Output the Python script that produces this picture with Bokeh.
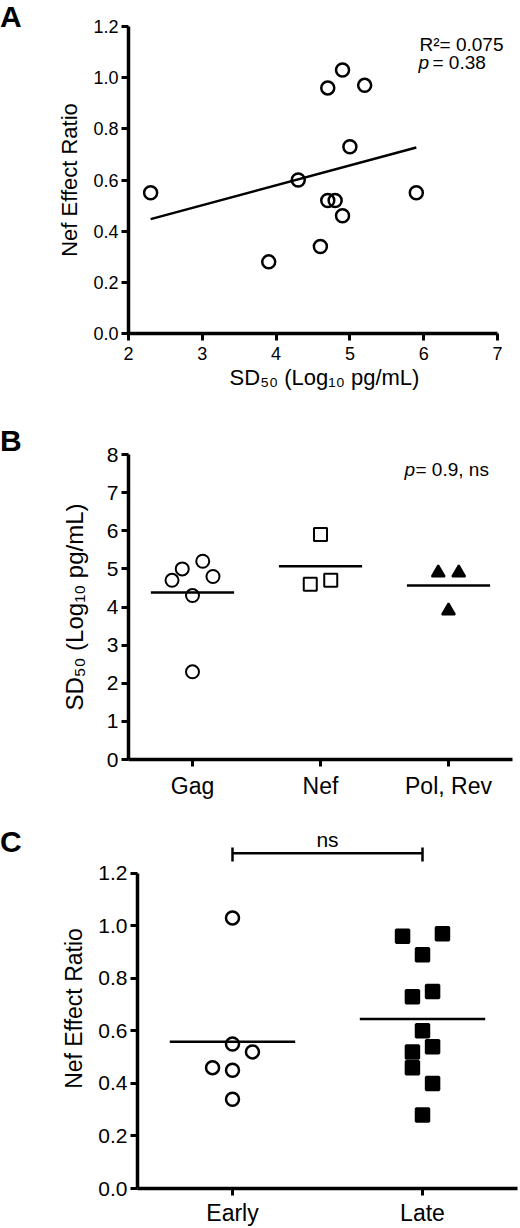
import numpy as np
from bokeh.plotting import figure
from bokeh.models import Range1d, FixedTicker, Label, Div
from bokeh.layouts import column, row
from bokeh.core.properties import value
from bokeh.embed import file_html
from bokeh.resources import INLINE

FONT = "Liberation Sans"

# Panel A: SD50 vs Nef effect ratio
sd50_a = [2.3, 3.9, 4.3, 4.6, 4.7, 4.7, 4.8, 4.9, 4.9, 5.0, 5.2, 5.9]
nef_a = [0.55, 0.28, 0.60, 0.34, 0.96, 0.52, 0.52, 1.03, 0.46, 0.73, 0.97, 0.55]

# Panel B: SD50 by gene group
groups_b = ["Gag", "Nef", "Pol, Rev"]
gag_sd50 = [4.7, 5.0, 5.2, 4.8, 4.3, 2.3]
nef_sd50 = [5.9, 4.6, 4.7]
polrev_sd50 = [4.9, 4.9, 3.9]
gag_jit = [-0.16, -0.08, 0.08, 0.16, 0.0, 0.0]
nef_jit = [0.0, -0.08, 0.08]
polrev_jit = [-0.08, 0.08, 0.0]

# Panel C: early vs late
groups_c = ["Early", "Late"]
early_ratio = [1.03, 0.55, 0.52, 0.46, 0.45, 0.34]
late_ratio = [0.96, 0.97, 0.89, 0.73, 0.75, 0.60, 0.52, 0.54, 0.46, 0.40, 0.28]
early_jit = [0.0, 0.0, 0.105, -0.105, 0.0, 0.0]
late_jit = [-0.105, 0.105, 0.0, -0.053, 0.053, 0.0, -0.053, 0.053, -0.053, 0.053, 0.0]

LETTER_W = 28


def make_fig(height, left, right, top, bottom, xr, yr):
    p = figure(width=520 - LETTER_W, height=height, x_range=xr, y_range=yr,
               min_border_left=left, min_border_right=right,
               min_border_top=top, min_border_bottom=bottom,
               output_backend="svg", toolbar_location=None)
    p.grid.visible = False
    p.outline_line_color = None
    for ax in p.axis:
        ax.axis_line_width = 3.5
        ax.major_tick_line_width = 3
        ax.major_tick_out = 7
        ax.major_tick_in = 0
        ax.minor_tick_out = 0
        ax.minor_tick_in = 0
        ax.major_label_text_font = FONT
        ax.axis_label_text_font = FONT
        ax.axis_label_text_font_style = "normal"
        ax.major_label_text_color = "black"
        ax.axis_label_text_color = "black"
    return p


def letter(txt, height, top):
    html = ('<div style="font-family:\'Liberation Sans\';font-size:30px;font-weight:bold;'
            'color:black;margin-top:%dpx;line-height:1.15">%s</div>' % (top, txt))
    return Div(text=html, width=LETTER_W, height=height, margin=0)


def note(p, x, y, txt, italic=False, size="19px"):
    p.add_layout(Label(x=x, y=y, x_units="screen", y_units="screen", text=txt,
                       text_font=FONT, text_font_size=size, text_color="black",
                       text_baseline="alphabetic",
                       text_font_style="italic" if italic else "normal"))


# ---------- A ----------
pa = make_fig(400, 100, 0, 26, 67, Range1d(2, 7 + 23 / 73.8), Range1d(0, 1.2))
pa.xaxis.ticker = FixedTicker(ticks=[2, 3, 4, 5, 6, 7])
pa.xaxis.bounds = (2, 7)
pa.yaxis.ticker = FixedTicker(ticks=[0, 0.2, 0.4, 0.6, 0.8, 1.0, 1.2])
pa.yaxis.major_label_overrides = {t: "%.1f" % t for t in [0, 0.2, 0.4, 0.6, 0.8, 1.0, 1.2]}
pa.axis.major_label_text_font_size = "18px"
pa.axis.axis_label_text_font_size = "22px"
pa.xaxis.axis_label = "SD₅₀ (Log₁₀ pg/mL)"
pa.yaxis.axis_label = "Nef Effect Ratio"
pa.yaxis.major_label_standoff = 3
pa.xaxis.major_label_standoff = 6
pa.yaxis.axis_label_standoff = 8
pa.xaxis.axis_label_standoff = 2

coef = np.polyfit(sd50_a, nef_a, 1)
fit_x = [min(sd50_a), max(sd50_a)]
pa.line(fit_x, list(np.polyval(coef, fit_x)), line_color="black", line_width=2.5)
pa.scatter(sd50_a, nef_a, marker="circle", size=13, fill_color=None,
           line_color="black", line_width=2.5)
note(pa, 291, 289, "R²= 0.075")
note(pa, 290, 271, "p", italic=True)
note(pa, 304, 271, "= 0.38")

# ---------- B ----------
pb = make_fig(408, 100, 8, 54, 49, Range1d(0, 3), Range1d(0, 8))
pb.xaxis.ticker = FixedTicker(ticks=[0.5, 1.5, 2.5])
pb.xaxis.major_label_overrides = {i + 0.5: g for i, g in enumerate(groups_b)}
pb.yaxis.ticker = FixedTicker(ticks=list(range(9)))
pb.yaxis.major_label_text_font_size = "21px"
pb.xaxis.major_label_text_font_size = "23px"
pb.yaxis.axis_label = "SD₅₀ (Log₁₀ pg/mL)"
pb.yaxis.axis_label_text_font_size = "24px"
pb.yaxis.major_label_standoff = 3
pb.xaxis.major_label_standoff = 6
pb.yaxis.axis_label_standoff = 16

b_sets = [(gag_sd50, gag_jit, "circle", None), (nef_sd50, nef_jit, "square", None),
          (polrev_sd50, polrev_jit, "triangle", "black")]
for i, (vals, jit, mk, fill) in enumerate(b_sets):
    m = float(np.mean(vals))
    pb.segment(x0=[i + 0.5 - 0.325], x1=[i + 0.5 + 0.325], y0=[m], y1=[m],
               line_color="black", line_width=2.5)
    pb.scatter([i + 0.5 + j for j in jit], vals, marker=mk, size=13,
               fill_color=fill, line_color="black", line_width=2)
note(pb, 276, 290, "p", italic=True)
note(pb, 287, 290, "= 0.9, ns")

# ---------- C ----------
pc = make_fig(420, 109, 3, 20, 38, Range1d(0, 2), Range1d(0, 362 / 264.17))
pc.xaxis.ticker = FixedTicker(ticks=[0.5, 1.5])
pc.xaxis.major_label_overrides = {i + 0.5: g for i, g in enumerate(groups_c)}
pc.yaxis.ticker = FixedTicker(ticks=[0, 0.2, 0.4, 0.6, 0.8, 1.0, 1.2])
pc.yaxis.major_label_overrides = {t: "%.1f" % t for t in [0, 0.2, 0.4, 0.6, 0.8, 1.0, 1.2]}
pc.yaxis.bounds = (0, 1.2)
pc.yaxis.major_label_text_font_size = "21px"
pc.xaxis.major_label_text_font_size = "23px"
pc.yaxis.axis_label = "Nef Effect Ratio"
pc.yaxis.axis_label_text_font_size = "23px"
pc.yaxis.major_label_standoff = 3
pc.xaxis.major_label_standoff = 4
pc.yaxis.axis_label_standoff = 8

c_sets = [(early_ratio, early_jit, "circle", None), (late_ratio, late_jit, "square", "black")]
for i, (vals, jit, mk, fill) in enumerate(c_sets):
    m = float(np.mean(vals))
    pc.segment(x0=[i + 0.5 - 0.33], x1=[i + 0.5 + 0.33], y0=[m], y1=[m],
               line_color="black", line_width=2.5)
    pc.scatter([i + 0.5 + j for j in jit], vals, marker=mk, size=13,
               fill_color=fill, line_color="black", line_width=2.5)

# significance bracket
pc.segment(x0=[0.5, 0.5, 1.5], x1=[1.5, 0.5, 1.5], y0=[1.276, 1.245, 1.245],
           y1=[1.276, 1.298, 1.298], line_color="black", line_width=2.5)
pc.text(x=[1.0], y=[1.284], text=["ns"], text_align="center", text_baseline="bottom",
        text_font=value(FONT), text_font_size="21px", text_color="black")

layout = column(row(letter("A", 400, 0), pa, spacing=0),
                row(letter("B", 408, 24), pb, spacing=0),
                row(letter("C", 420, 17), pc, spacing=0), spacing=0)
open("out.html", "w").write(file_html(layout, INLINE))
